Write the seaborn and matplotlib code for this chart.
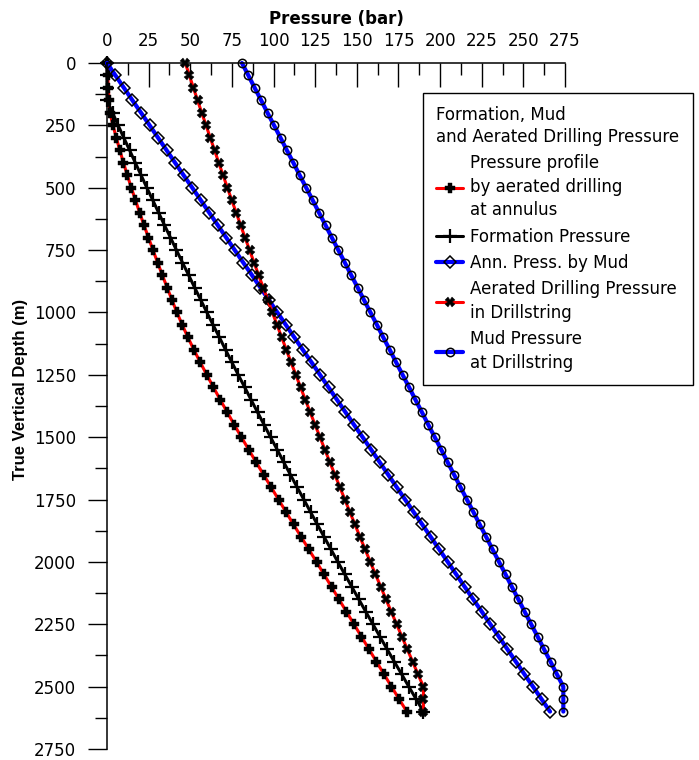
import matplotlib
matplotlib.use("Agg")
import matplotlib.pyplot as plt
import seaborn as sns
from matplotlib.ticker import MultipleLocator

# ---------------- data ----------------
depth_m = [0, 50, 100, 150, 200, 250, 300, 350, 400, 450, 500, 550, 600, 650,
           700, 750, 800, 850, 900, 950, 1000, 1050, 1100, 1150, 1200, 1250,
           1300, 1350, 1400, 1450, 1500, 1550, 1600, 1650, 1700, 1750, 1800,
           1850, 1900, 1950, 2000, 2050, 2100, 2150, 2200, 2250, 2300, 2350,
           2400, 2450, 2500, 2550, 2600]

aerated_annulus_bar = [0, 0.4, 0.8, 1.2, 1.8, 3.6, 5.6, 7.7, 9.9, 12.2, 14.6,
                       17.1, 19.6, 22.2, 24.9, 27.6, 30.4, 33.2, 36.1, 39.0,
                       42.0, 45.2, 48.6, 52.2, 56.0, 59.9, 63.9, 68.0, 72.2,
                       76.4, 80.7, 85.1, 89.5, 94.0, 98.5, 103.0, 107.5, 112.0,
                       116.6, 121.2, 125.8, 130.3, 134.8, 139.3, 143.8, 148.3,
                       152.8, 157.3, 161.8, 166.3, 170.8, 175.4, 180.0]

formation_bar = [0, 0, 0, 0, 3.4, 6.7, 10.1, 13.6, 17.0, 20.5, 23.9, 27.5,
                 31.0, 34.5, 38.1, 41.7, 45.3, 49.0, 52.6, 56.3, 60.0, 63.7,
                 67.5, 71.2, 75.0, 78.8, 82.7, 86.5, 90.4, 94.3, 98.2, 102.2,
                 106.1, 110.1, 114.1, 118.2, 122.2, 126.3, 130.4, 134.5, 138.6,
                 142.8, 147.0, 151.2, 155.4, 159.7, 163.9, 168.2, 172.5, 176.9,
                 181.2, 185.6, 190.0]

ann_mud_bar = [0, 5.1, 10.2, 15.3, 20.5, 25.6, 30.7, 35.8, 40.9, 46.0, 51.2,
               56.3, 61.4, 66.5, 71.6, 76.7, 81.8, 87.0, 92.1, 97.2, 102.3,
               107.4, 112.5, 117.6, 122.8, 127.9, 133.0, 138.1, 143.2, 148.3,
               153.5, 158.6, 163.7, 168.8, 173.9, 179.0, 184.1, 189.3, 194.4,
               199.5, 204.6, 209.7, 214.8, 219.9, 225.1, 230.2, 235.3, 240.4,
               245.5, 250.6, 255.8, 260.9, 266.0]

aerated_drillstring_bar = [47.0, 49.5, 51.9, 54.4, 56.9, 59.5, 62.0, 64.6,
                           67.1, 69.7, 72.3, 74.9, 77.6, 80.2, 82.9, 85.6,
                           88.3, 91.0, 93.8, 96.5, 99.3, 102.1, 104.9, 107.7,
                           110.5, 113.4, 116.2, 119.1, 122.0, 124.9, 127.9,
                           130.8, 133.8, 136.8, 139.8, 142.8, 145.8, 148.9,
                           151.9, 155.0, 158.1, 161.2, 164.4, 167.5, 170.7,
                           173.9, 177.1, 180.3, 183.5, 186.7, 190.0, 190.0,
                           190.0]

mud_drillstring_bar = [81.0, 84.9, 88.7, 92.6, 96.4, 100.3, 104.2, 108.0,
                       111.9, 115.7, 119.6, 123.5, 127.3, 131.2, 135.0, 138.9,
                       142.8, 146.6, 150.5, 154.3, 158.2, 162.1, 165.9, 169.8,
                       173.6, 177.5, 181.4, 185.2, 189.1, 192.9, 196.8, 200.7,
                       204.5, 208.4, 212.2, 216.1, 220.0, 223.8, 227.7, 231.5,
                       235.4, 239.3, 243.1, 247.0, 250.8, 254.7, 258.6, 262.4,
                       266.3, 270.1, 274.0, 274.0, 274.0]

series_labels = ["Pressure profile\nby aerated drilling\nat annulus",
                 "Formation Pressure",
                 "Ann. Press. by Mud",
                 "Aerated Drilling Pressure\nin Drillstring",
                 "Mud Pressure\nat Drillstring"]
legend_title = "Formation, Mud\nand Aerated Drilling Pressure"
x_title = "Pressure (bar)"
y_title = "True Vertical Depth (m)"

# ---------------- style ----------------
sns.set_theme(style="ticks")
plt.rcParams['font.family'] = ['DejaVu Sans']
plt.rcParams.update({
    'axes.edgecolor': 'black', 'text.color': 'black',
    'xtick.color': 'black', 'ytick.color': 'black',
    'axes.labelcolor': 'black', 'axes.linewidth': 1.1,
})

W, H = 699, 760
fig = plt.figure(figsize=(W / 100, H / 100), dpi=100)
ax = fig.add_axes([107 / W, 1 - 749 / H, (565 - 107) / W, (749 - 63) / H])

styles = [
    dict(color='red', lw=2.2, marker='P', markersize=7,
         markerfacecolor='black', markeredgecolor='black', markeredgewidth=0.3),
    dict(color='black', lw=2.2, marker='+', markersize=10,
         markerfacecolor='black', markeredgecolor='black', markeredgewidth=1.6),
    dict(color='blue', lw=3.0, marker='D', markersize=6,
         markerfacecolor='none', markeredgecolor='black', markeredgewidth=1.1),
    dict(color='red', lw=2.2, marker='X', markersize=7,
         markerfacecolor='black', markeredgecolor='black', markeredgewidth=0.3),
    dict(color='blue', lw=3.0, marker='o', markersize=6,
         markerfacecolor='none', markeredgecolor='black', markeredgewidth=1.1),
]
values = [aerated_annulus_bar, formation_bar, ann_mud_bar,
          aerated_drillstring_bar, mud_drillstring_bar]

for vals, lab, st in zip(values, series_labels, styles):
    sns.lineplot(x=vals, y=depth_m, sort=False, estimator=None, ax=ax,
                 label=lab, clip_on=False, **st)

# ---------------- axes ----------------
ax.set_xlim(0, 275)
ax.set_ylim(2750, 0)
ax.xaxis.set_major_locator(MultipleLocator(25))
ax.xaxis.set_minor_locator(MultipleLocator(12.5))
ax.yaxis.set_major_locator(MultipleLocator(250))
ax.yaxis.set_minor_locator(MultipleLocator(125))

ax.spines['bottom'].set_visible(False)
ax.spines['right'].set_visible(False)
ax.xaxis.tick_top()
ax.xaxis.set_label_position('top')
ax.tick_params(axis='x', which='major', direction='in', length=17, width=1.0,
               labelsize=12, pad=9.5, top=True, bottom=False,
               labeltop=True, labelbottom=False)
ax.tick_params(axis='x', which='minor', direction='in', length=8.5, width=1.0,
               top=True, bottom=False)
ax.tick_params(axis='y', which='major', direction='out', length=13.7,
               width=1.0, labelsize=12, pad=8.6, left=True)
ax.tick_params(axis='y', which='minor', direction='out', length=8.6,
               width=1.0, left=True)

ax.set_xlabel(x_title, fontsize=12, fontweight='bold')
ax.xaxis.set_label_coords(0.5, 1.0566)
ax.set_ylabel(y_title, fontsize=12, fontweight='bold',
              family=['Liberation Sans', 'DejaVu Sans'])
ax.yaxis.set_label_coords(-0.1725, 0.524)

handles, labels = ax.get_legend_handles_labels()
leg = ax.legend(handles, labels, title=legend_title, loc='upper left',
                bbox_to_anchor=(423 / W, 1 - 93 / H),
                bbox_transform=fig.transFigure, borderaxespad=0,
                frameon=True, fancybox=False, edgecolor='black',
                framealpha=1, fontsize=12, title_fontsize=12,
                handlelength=1.6, handletextpad=0.4, labelspacing=0.5,
                borderpad=0.8, alignment='left')
leg.get_frame().set_linewidth(1.0)
for t in leg.get_texts():
    t.set_linespacing(1.4)
leg.get_title().set_linespacing(1.25)

fig.savefig("out.png", dpi=100)
